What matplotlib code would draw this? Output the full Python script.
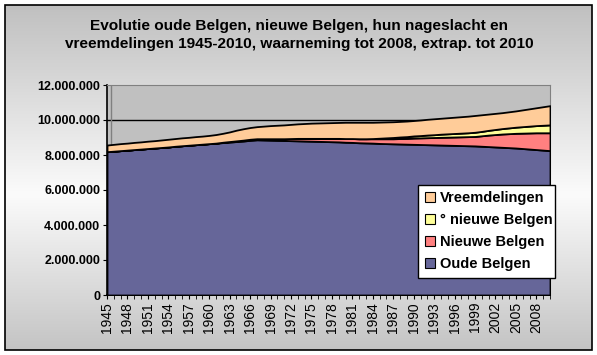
import numpy as np
import matplotlib
matplotlib.use("Agg")
import matplotlib.pyplot as plt
from matplotlib.patches import Rectangle
from matplotlib.colors import LinearSegmentedColormap

plt.rcParams['font.family'] = ['Liberation Sans', 'DejaVu Sans']

title = "Evolutie oude Belgen, nieuwe Belgen, hun nageslacht en\nvreemdelingen 1945-2010, waarneming tot 2008, extrap. tot 2010"

years = list(range(1945, 2011))

# values in millions
oude_belgen = [8.19, 8.22, 8.25, 8.28, 8.31, 8.34, 8.37, 8.40, 8.43, 8.46,
               8.50, 8.53, 8.56, 8.59, 8.62, 8.65, 8.68, 8.71, 8.74, 8.77,
               8.80, 8.84, 8.87, 8.86, 8.85, 8.84, 8.83, 8.82, 8.81, 8.80,
               8.79, 8.78, 8.77, 8.76, 8.75, 8.73, 8.72, 8.70, 8.69, 8.68,
               8.66, 8.65, 8.64, 8.63, 8.62, 8.61, 8.60, 8.59, 8.58, 8.57,
               8.56, 8.55, 8.54, 8.53, 8.52, 8.50, 8.48, 8.46, 8.44, 8.42,
               8.40, 8.37, 8.34, 8.31, 8.28, 8.25]
nieuwe_belgen = [0, 0, 0, 0, 0, 0, 0, 0, 0, 0,
                 0, 0, 0, 0, 0, 0, 0, 0.02, 0.03, 0.04,
                 0.05, 0.06, 0.06, 0.07, 0.08, 0.09, 0.10, 0.12, 0.14, 0.15,
                 0.16, 0.17, 0.18, 0.19, 0.20, 0.21, 0.22, 0.23, 0.24, 0.25,
                 0.27, 0.28, 0.29, 0.31, 0.33, 0.36, 0.38, 0.40, 0.42, 0.44,
                 0.46, 0.48, 0.50, 0.52, 0.54, 0.60, 0.66, 0.71, 0.76, 0.80,
                 0.84, 0.88, 0.92, 0.96, 0.99, 1.02]
nageslacht = [0, 0, 0, 0, 0, 0, 0, 0, 0, 0,
              0, 0, 0, 0, 0, 0, 0, 0, 0, 0,
              0, 0, 0, 0, 0, 0, 0, 0, 0, 0,
              0, 0, 0, 0, 0, 0, 0, 0, 0, 0.01,
              0.03, 0.05, 0.07, 0.09, 0.10, 0.12, 0.13, 0.15, 0.16, 0.18,
              0.19, 0.20, 0.21, 0.22, 0.24, 0.25, 0.27, 0.29, 0.31, 0.33,
              0.35, 0.37, 0.39, 0.41, 0.43, 0.45]
vreemdelingen = [0.38, 0.39, 0.40, 0.40, 0.41, 0.41, 0.42, 0.42, 0.43, 0.44,
                 0.44, 0.45, 0.45, 0.46, 0.46, 0.47, 0.49, 0.51, 0.55, 0.61,
                 0.65, 0.67, 0.69, 0.72, 0.75, 0.77, 0.79, 0.81, 0.83, 0.85,
                 0.87, 0.88, 0.89, 0.90, 0.91, 0.93, 0.93, 0.94, 0.94, 0.93,
                 0.92, 0.91, 0.90, 0.89, 0.89, 0.88, 0.89, 0.90, 0.91, 0.91,
                 0.92, 0.93, 0.94, 0.95, 0.96, 0.95, 0.93, 0.92, 0.91, 0.92,
                 0.93, 0.96, 0.99, 1.02, 1.06, 1.10]

labels = ["Oude Belgen", "Nieuwe Belgen", "\u00b0 nieuwe Belgen", "Vreemdelingen"]
colors = ["#666699", "#FF8080", "#FFFF99", "#FFCC99"]
ytick_vals = [0, 2, 4, 6, 8, 10, 12]
ytick_labels = ["0", "2.000.000", "4.000.000", "6.000.000", "8.000.000", "10.000.000", "12.000.000"]
xtick_years = list(range(1945, 2010, 3))

W, H = 597, 355
fig = plt.figure(figsize=(W / 100, H / 100), dpi=100)
fig.patch.set_facecolor("white")

# background gradient for chart area
bg = fig.add_axes([0, 0, 1, 1], zorder=-10)
bg.set_axis_off()
cmap = LinearSegmentedColormap.from_list("g", [(0, "#c0c0c0"), (0.55, "#fbfbfb"), (1, "#c4c4c4")])
grad = np.linspace(0, 1, 256).reshape(-1, 1)
bg.imshow(grad, cmap=cmap, aspect="auto", extent=[5 / W, 592 / W, 1 - 350 / H, 1 - 5 / H],
          origin="upper")
bg.set_xlim(0, 1)
bg.set_ylim(0, 1)
bg.add_patch(Rectangle((5 / W, 1 - 350 / H), 587 / W, 345 / H, fill=False, edgecolor="black", lw=1.2))

ax = fig.add_axes([107 / W, 1 - 295 / H, 443 / W, 210 / H])
ax.set_facecolor("#c0c0c0")

x = np.array(years)
stack = [np.array(oude_belgen), np.array(nieuwe_belgen), np.array(nageslacht), np.array(vreemdelingen)]
ax.stackplot(x, *stack, colors=colors, edgecolor="black", linewidth=1.3, zorder=3)

for v in ytick_vals[1:-1]:
    ax.axhline(v, color="black", lw=1.0, zorder=1)
tot0 = sum(s[0] for s in stack)
ax.plot([1945.55, 1945.55], [tot0, 12], color="#808080", lw=1.0, zorder=1)

ax.set_xlim(1945, 2010)
ax.set_ylim(0, 12)
ax.set_yticks(ytick_vals)
ax.set_yticklabels(ytick_labels, fontsize=9, fontweight="bold")
ax.set_xticks(xtick_years)
ax.set_xticklabels([str(y) for y in xtick_years], rotation=90, fontsize=10)
ax.set_xticks(years, minor=True)
ax.tick_params(axis="x", which="both", length=3, direction="out", pad=2)
ax.tick_params(axis="y", length=3, direction="out", pad=2)

for side in ["top", "right"]:
    ax.spines[side].set_color("#808080")
for side in ["left", "bottom"]:
    ax.spines[side].set_color("black")
    ax.spines[side].set_linewidth(1.2)

fig.text(299 / W, 1 - 35 / H, title, ha="center", va="center", fontsize=11.1, fontweight="bold",
         linespacing=1.45)

handles = [Rectangle((0, 0), 1, 1, facecolor=c, edgecolor="black", lw=0.8) for c in colors]
leg = ax.legend(handles[::-1], labels[::-1], loc="lower left",
                bbox_to_anchor=(418 / W, 1 - 278 / H, 137 / W, 90 / H),
                bbox_transform=fig.transFigure, mode="expand",
                prop={"weight": "bold", "size": 10.5}, frameon=True, fancybox=False,
                edgecolor="black", framealpha=1, handlelength=0.7, handleheight=0.7,
                handletextpad=0.35, labelspacing=0.55, borderpad=0.45, borderaxespad=0)
leg.get_frame().set_linewidth(1.0)
leg.set_zorder(10)

fig.savefig("out.png", dpi=100)
